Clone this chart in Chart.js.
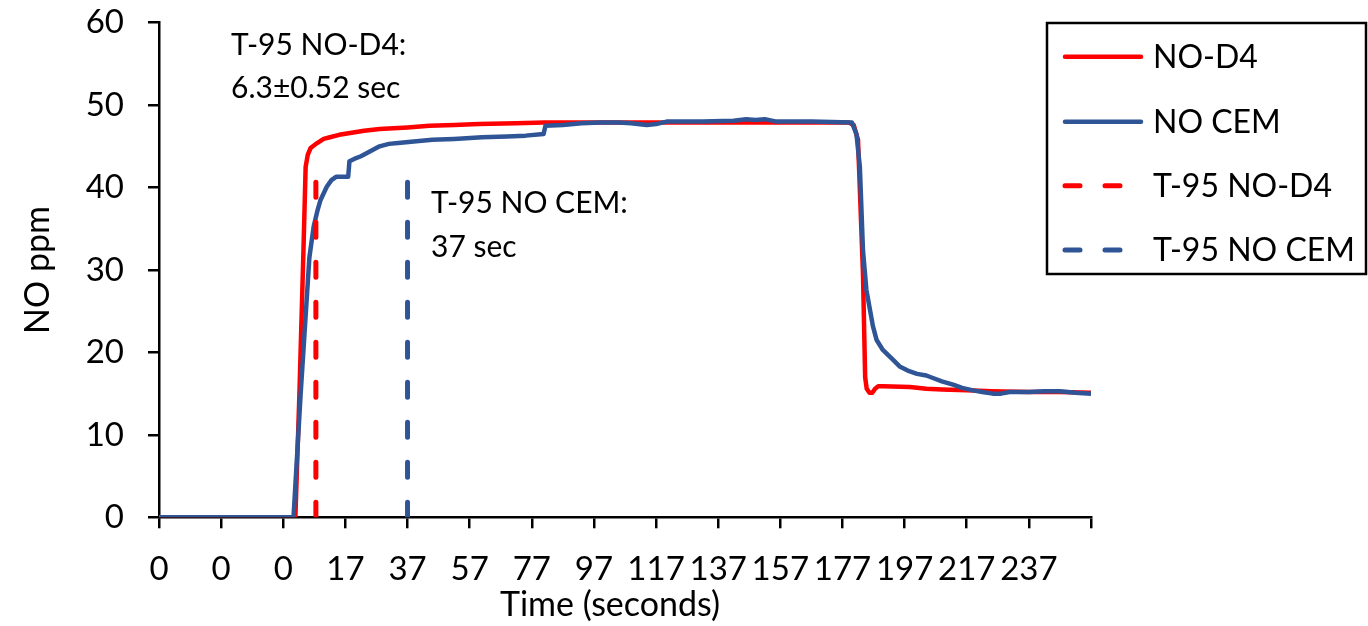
<!DOCTYPE html>
<html>
<head>
<meta charset="utf-8">
<title>NO response</title>
<script src="https://cdn.jsdelivr.net/npm/chart.js@4.4.1/dist/chart.umd.min.js"></script>
<style>
  html, body { margin: 0; padding: 0; background: #fff; }
  #wrap { width: 1368px; height: 626px; }
</style>
</head>
<body>
<div id="wrap"><canvas id="noChart"></canvas></div>
<script>
// x = sample number on the category axis, one label every 20 samples
const xTickLabels = ['0', '0', '0', '17', '37', '57', '77', '97', '117', '137', '157', '177', '197', '217', '237'];

// NO-D4 trace
const d4Index = [0, 43.9, 45.2, 46.5, 47.2, 47.9, 48.8, 50.9, 53, 55, 58, 61, 66, 71, 80, 87, 95, 103, 115, 124, 150, 180, 200, 222,
  223.6, 225, 226.6, 227.3, 227.8, 228.7, 229.6, 230.5, 231.5, 233, 241.7, 247, 252, 260, 268, 280, 290, 300];
const d4Ppm = [0, 0, 15, 32.4, 42.5, 44, 44.8, 45.4, 45.9, 46.1, 46.4, 46.6, 46.9, 47.1, 47.3, 47.5, 47.6, 47.7, 47.8, 47.9, 47.9, 47.9, 47.9, 47.9,
  47.6, 45.8, 29.6, 17, 15.6, 15.1, 15.1, 15.6, 15.9, 15.9, 15.8, 15.6, 15.5, 15.4, 15.3, 15.2, 15.2, 15.1];

// NO CEM trace
const cemIndex = [0, 43.3, 45.6, 48.4, 49.8, 51, 52, 54, 55.5, 57, 60.9, 61.3, 63, 65, 68, 71, 74, 77, 82, 88, 95, 104, 112, 118, 123.8, 124.4,
  130, 136, 142, 148, 152, 157, 160, 163.4, 175, 185, 189, 192, 195, 198.8, 210, 223,
  224.5, 225.6, 226.6, 227.7, 229.8, 231, 233, 236.3, 238.4, 241, 244, 247, 249.1, 252, 255.6, 258.5, 262, 265, 268.4, 271, 273.8, 280, 285, 290, 295, 300];
const cemPpm = [0, 0, 15, 31.5, 35.3, 37.2, 38.5, 40.1, 40.9, 41.3, 41.3, 43.2, 43.5, 43.8, 44.4, 45, 45.3, 45.4, 45.6, 45.8, 45.9, 46.1, 46.2, 46.3, 46.5, 47.5,
  47.6, 47.8, 47.9, 47.9, 47.8, 47.6, 47.7, 48, 48, 48.1, 48.3, 48.2, 48.3, 48, 48, 47.9,
  46.5, 42.5, 32.4, 27.6, 23.2, 21.5, 20.3, 19.1, 18.3, 17.8, 17.4, 17.2, 16.9, 16.5, 16.1, 15.7, 15.4, 15.2, 15, 15, 15.2, 15.2, 15.3, 15.3, 15.1, 15];

// T-95 markers
const t95D4Index = [50.5, 50.5];
const t95D4Ppm = [0, 43.3];
const t95CemIndex = [80, 80];
const t95CemPpm = [0, 43];

const seriesNames = ['NO-D4', 'NO CEM', 'T-95 NO-D4', 'T-95 NO CEM'];

const RED = '#FF0000';
const BLUE = '#2F5597';
const FONT = 'Lato, "Open Sans", sans-serif';

function toPoints(xs, ys) {
  return xs.map((x, i) => ({ x: x, y: ys[i] }));
}

// text notes next to the markers, plus the x axis title
const annotationPlugin = {
  id: 'notes',
  afterDatasetsDraw(chart) {
    const ctx = chart.ctx;
    ctx.save();
    ctx.fillStyle = '#000';
    ctx.font = '30px ' + FONT;
    ctx.textAlign = 'left';
    ctx.textBaseline = 'alphabetic';
    ctx.fillText('T-95 NO-D4:', 231, 55);
    ctx.fillText('6.3\u00B10.52 sec', 231, 98);
    ctx.fillText('T-95 NO CEM:', 431, 213);
    ctx.fillText('37 sec', 431, 257);

    ctx.font = '34px ' + FONT;
    ctx.textAlign = 'center';
    ctx.textBaseline = 'middle';
    ctx.fillText('Time (seconds)', 610, 605);
    ctx.restore();
  }
};

// boxed legend in the top right, drawn from the dataset styles
const boxLegendPlugin = {
  id: 'boxLegend',
  afterDraw(chart) {
    const ctx = chart.ctx;
    const rows = [56.7, 121.7, 185.7, 250];
    ctx.save();
    ctx.fillStyle = '#fff';
    ctx.fillRect(1047, 23, 319, 251);
    ctx.strokeStyle = '#000';
    ctx.lineWidth = 2.5;
    ctx.strokeRect(1047, 23, 319, 251);
    chart.data.datasets.forEach((ds, i) => {
      const y = rows[i];
      ctx.beginPath();
      ctx.strokeStyle = ds.borderColor;
      ctx.lineWidth = ds.borderDash ? 5 : 4.5;
      ctx.lineCap = 'round';
      ctx.setLineDash(ds.borderDash || []);
      ctx.moveTo(1065, y);
      ctx.lineTo(1141, y);
      ctx.stroke();
      ctx.setLineDash([]);
      ctx.fillStyle = '#000';
      ctx.font = '32px ' + FONT;
      ctx.textBaseline = 'middle';
      ctx.fillText(ds.label, 1153, y + 1);
    });
    ctx.restore();
  }
};

const ctx = document.getElementById('noChart').getContext('2d');
new Chart(ctx, {
  type: 'line',
  data: {
    datasets: [
      {
        label: seriesNames[0],
        data: toPoints(d4Index, d4Ppm),
        borderColor: RED,
        borderWidth: 4.5,
        order: 4
      },
      {
        label: seriesNames[1],
        data: toPoints(cemIndex, cemPpm),
        borderColor: BLUE,
        borderWidth: 4.5,
        order: 3
      },
      {
        label: seriesNames[2],
        data: toPoints(t95D4Index, t95D4Ppm),
        borderColor: RED,
        borderWidth: 5,
        borderDash: [15, 25],
        borderCapStyle: 'round',
        order: 2
      },
      {
        label: seriesNames[3],
        data: toPoints(t95CemIndex, t95CemPpm),
        borderColor: BLUE,
        borderWidth: 5,
        borderDash: [15, 25],
        borderCapStyle: 'round',
        order: 1
      }
    ]
  },
  options: {
    responsive: true,
    maintainAspectRatio: false,
    animation: false,
    devicePixelRatio: 1,
    layout: { padding: { left: 0, right: 277, top: 22.7, bottom: 0 } },
    elements: {
      point: { radius: 0, hoverRadius: 0 },
      line: { tension: 0, borderJoinStyle: 'round', fill: false }
    },
    plugins: {
      legend: { display: false },
      tooltip: { enabled: false }
    },
    scales: {
      x: {
        type: 'linear',
        min: 0,
        max: 300,
        afterFit: (scale) => { scale.height = 108.7; },
        border: { display: true, color: '#000', width: 2.5 },
        grid: { drawOnChartArea: false, color: '#000', lineWidth: 2.5, tickLength: 11 },
        ticks: {
          stepSize: 20,
          autoSkip: false,
          maxRotation: 0,
          padding: 21,
          color: '#000',
          font: { family: FONT, size: 33 },
          callback: (value) => xTickLabels[value / 20] ?? ''
        }
      },
      y: {
        min: 0,
        max: 60,
        afterFit: (scale) => {
          scale.width = 159;
          // keep the plot top at the 60 tick, labels may overhang
          scale.paddingTop = 10;
          scale.paddingBottom = 10;
        },
        border: { display: true, color: '#000', width: 2.5 },
        grid: { drawOnChartArea: false, color: '#000', lineWidth: 2.5, tickLength: 11 },
        ticks: {
          stepSize: 10,
          padding: 24,
          color: '#000',
          font: { family: FONT, size: 33 }
        },
        title: {
          display: true,
          text: 'NO ppm',
          color: '#000',
          font: { family: FONT, size: 34 },
          padding: { top: 18, bottom: 0 }
        }
      }
    }
  },
  plugins: [annotationPlugin, boxLegendPlugin]
});
</script>
</body>
</html>
